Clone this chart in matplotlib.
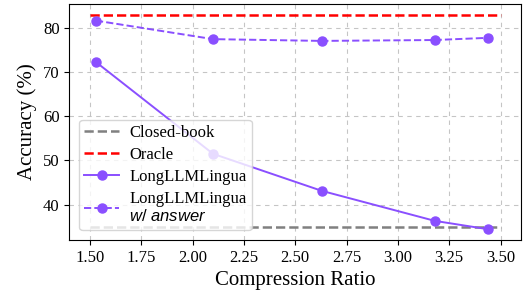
import matplotlib
matplotlib.use('Agg')
import matplotlib.pyplot as plt

plt.rcParams['font.family'] = ['Liberation Serif', 'DejaVu Sans']
plt.rcParams['mathtext.fontset'] = 'custom'
plt.rcParams['mathtext.it'] = 'Liberation Sans:italic'
plt.rcParams['mathtext.rm'] = 'Liberation Sans'

# data
ratio = [1.53, 2.10, 2.63, 3.18, 3.44]
longllmlingua = [72.3, 51.5, 43.1, 36.3, 34.4]
longllmlingua_ans = [81.7, 77.5, 77.1, 77.3, 77.8]
closed_book = 34.8
oracle = 83.0
line_span = [1.5, 3.5]

purple = '#8A4FFF'

fig, ax = plt.subplots(figsize=(5.29, 2.97), dpi=100)

ax.plot(line_span, [closed_book] * 2, '--', color='gray', lw=1.8, label='Closed-book')
ax.plot(line_span, [oracle] * 2, '--', color='red', lw=1.8, label='Oracle')
ax.plot(ratio, longllmlingua, '-o', color=purple, lw=1.4, ms=6.5, label='LongLLMLingua')
ax.plot(ratio, longllmlingua_ans, '--o', color=purple, lw=1.4, ms=6.5,
        label='LongLLMLingua\n$\\it{w/\\ answer}$')

ax.set_xlabel('Compression Ratio', fontsize=15)
ax.set_ylabel('Accuracy (%)', fontsize=15)
ax.tick_params(labelsize=12)
ax.set_xticks([1.5, 1.75, 2.0, 2.25, 2.5, 2.75, 3.0, 3.25, 3.5])
ax.set_yticks([40, 50, 60, 70, 80])
ax.grid(True, linestyle=(0, (4, 4)), color='gray', alpha=0.45, lw=0.8)
ax.legend(loc='lower left', fontsize=12, handlelength=2.1, borderpad=0.3,
          labelspacing=0.35, handletextpad=0.6, borderaxespad=0.6)

fig.subplots_adjust(left=0.131, right=0.985, top=0.986, bottom=0.192)
fig.savefig('out.png', dpi=100)
